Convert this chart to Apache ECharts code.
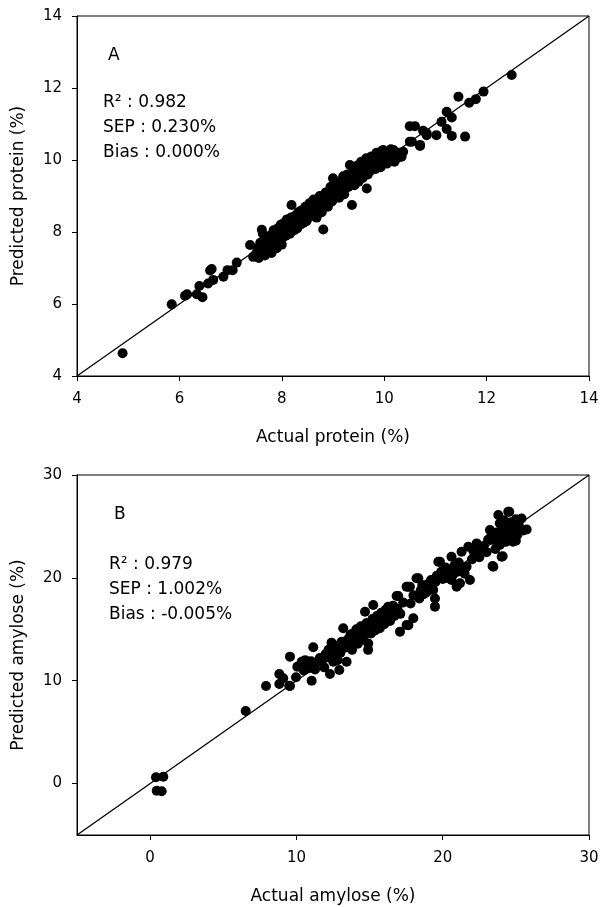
<!DOCTYPE html>
<html>
<head>
<meta charset="utf-8">
<script src="https://cdn.jsdelivr.net/npm/echarts@6/dist/echarts.min.js"></script>
<style>html,body{margin:0;padding:0;background:#fff;}#c{width:602px;height:907px;}</style>
</head>
<body>
<div id="c"></div>
<script>
// Panel A: protein (actual, predicted)
var proteinPoints = [
[4.89,4.63],[5.85,5.99],[6.11,6.23],[6.15,6.27],[6.34,6.27],[6.39,6.5],[6.45,6.19],[6.56,6.57],[6.63,6.97],[6.60,6.93],[6.66,6.67],[6.86,6.76],[6.94,6.94],[7.04,6.94],[7.12,7.15],
[7.38,7.64],[7.44,7.31],[7.50,7.40],[7.52,7.55],[7.55,7.28],[7.58,7.70],[7.60,7.45],[7.61,8.06],[7.63,7.95],[7.65,7.62],[7.67,7.35],[7.70,7.80],[7.72,7.50],[7.74,7.68],[7.76,7.58],[7.78,7.90],[7.80,7.42],[7.82,7.72],[7.84,8.05],[7.86,7.62],[7.88,7.85],[7.90,7.55],[7.92,8.10],[7.94,7.95],[7.96,7.70],[7.98,8.20],[8.00,7.65],[8.00,8.00],[8.02,7.85],[8.04,8.25],[8.06,8.10],[8.08,7.90],[8.10,8.35],[8.12,8.05],[8.14,8.20],[8.16,7.95],[8.18,8.40],[8.19,8.75],[8.20,8.15],[8.22,8.30],[8.24,8.05],[8.26,8.45],[8.28,8.25],[8.30,8.10],[8.32,8.55],[8.34,8.35],[8.36,8.20],[8.38,8.60],[8.40,8.40],[8.42,8.25],[8.44,8.50],[8.46,8.70],[8.48,8.30],[8.50,8.55],[8.52,8.40],[8.54,8.80],[8.56,8.60],[8.58,8.45],[8.60,8.70],[8.62,8.90],[8.64,8.55],[8.66,8.75],[8.68,8.40],[8.70,8.85],[8.72,8.65],[8.74,9.00],[8.76,8.80],[8.78,8.55],[8.80,8.95],[8.81,8.07],[8.84,8.75],[8.86,9.10],[8.88,8.90],[8.90,8.70],[8.92,9.05],[8.95,9.25],[8.98,8.85],[9.00,9.49],[9.02,9.10],[9.05,8.95],[9.08,9.30],[9.10,9.15],[9.12,8.95],[9.15,9.40],[9.18,9.20],[9.20,9.55],[9.22,9.05],[9.25,9.35],[9.28,9.60],[9.30,9.25],[9.33,9.86],[9.35,9.45],[9.37,8.75],[9.40,9.70],[9.42,9.30],[9.45,9.55],[9.48,9.85],[9.50,9.40],[9.52,9.65],[9.55,9.95],[9.58,9.50],[9.59,9.95],[9.62,9.75],[9.65,10.05],[9.66,9.21],[9.68,9.60],[9.70,9.90],[9.73,9.70],[9.75,10.10],[9.78,9.85],[9.80,10.00],[9.83,9.75],[9.85,10.20],[9.88,9.95],[9.90,10.10],[9.93,9.80],[9.95,10.25],[9.98,10.28],[10.00,10.00],[10.03,10.15],[10.05,9.90],[10.08,10.20],[10.10,10.05],[10.13,10.30],[10.15,10.10],[10.18,10.28],[10.20,9.95],[10.22,10.15],[10.25,10.05],[10.28,10.20],[10.30,10.10],[10.34,10.09],[10.37,10.23],
[10.50,10.51],[10.50,10.94],[10.54,10.51],[10.60,10.94],[10.70,10.42],[10.70,10.39],[10.76,10.81],[10.83,10.74],[10.83,10.69],[11.02,10.69],[11.12,11.06],[11.22,11.34],[11.22,10.86],[11.32,11.18],[11.32,10.67],[11.45,11.76],[11.58,10.65],[11.66,11.59],[11.79,11.69],[11.94,11.90],[12.49,12.36]
];
// Panel B: amylose (actual, predicted)
var amylosePoints = [
[0.40,0.61],[0.90,0.67],[0.45,-0.69],[0.79,-0.75],[6.53,7.06],[7.92,9.49],[8.83,9.68],[9.51,9.51],[8.83,10.65],[9.10,10.24],[9.56,12.34],[9.97,10.33],[9.56,9.49],[10.06,11.36],[10.36,11.85],[10.60,12.00],[10.81,11.20],[11.27,11.10],[11.04,10.00],[11.15,13.25],[10.5,11.0],[10.7,11.6],[11.0,11.9],[11.2,11.5],[11.4,11.8],[11.6,12.2],[11.8,12.1],[11.9,11.3],[12.0,12.6],[12.17,12.27],[12.29,10.65],[12.52,11.85],[12.93,11.04],[12.40,13.70],[12.2,13.0],[12.5,12.9],[12.6,12.3],[12.7,13.4],[12.8,12.0],[12.9,13.3],[13.0,12.7],[13.1,13.8],[13.2,15.1],[13.3,13.2],[13.43,11.85],[13.5,14.0],[13.6,13.4],[13.7,14.5],[13.8,13.0],[13.88,14.60],[13.9,13.8],[14.0,14.3],[14.1,15.0],[14.2,13.6],[14.3,14.6],[14.4,15.3],[14.5,14.0],[14.6,15.0],[14.69,16.71],[14.7,14.5],[14.8,15.6],[14.9,13.0],[14.91,13.62],[15.0,15.2],[15.1,14.6],[15.2,16.0],[15.25,17.36],[15.3,15.4],[15.4,14.9],[15.5,16.3],[15.6,15.7],[15.7,15.1],[15.8,16.6],[15.94,16.23],[16.0,15.5],[16.1,16.9],[16.2,16.0],[16.28,17.20],[16.4,15.8],[16.5,16.8],[16.6,17.3],[16.7,16.3],[16.85,18.24],[16.9,17.0],[16.96,18.24],[17.08,14.77],[17.1,16.5],[17.3,17.6],[17.53,15.42],[17.53,19.14],[17.65,19.14],[17.65,15.4],[17.76,19.14],[17.8,17.5],[17.99,16.07],[18.0,18.3],[18.21,19.96],[18.33,19.96],[18.4,18.0],[18.5,18.8],[18.6,19.3],[18.7,18.4],[18.8,19.0],[18.9,18.6],[19.0,19.4],[19.1,19.0],[19.2,19.8],[19.35,18.82],[19.47,18.00],[19.47,17.20],[19.5,19.6],[19.6,20.2],[19.7,21.57],[19.81,21.57],[19.9,20.6],[20.0,19.9],[20.1,20.4],[20.2,21.0],[20.3,20.0],[20.4,20.6],[20.5,20.76],[20.6,22.06],[20.6,19.8],[20.7,20.3],[20.8,21.2],[20.95,19.14],[21.0,20.6],[21.1,21.5],[21.18,19.47],[21.29,22.54],[21.4,21.0],[21.5,20.4],[21.63,21.08],[21.75,23.02],[21.86,19.79],[22.0,21.8],[22.1,22.6],[22.32,23.35],[22.5,22.0],[22.66,22.70],[22.8,23.1],[23.0,22.5],[23.1,23.7],[23.23,24.65],[23.3,24.0],[23.41,21.15],[23.46,21.08],[23.46,23.68],[23.6,22.8],[23.7,24.4],[23.8,26.11],[23.9,25.3],[24.0,24.0],[24.03,22.06],[24.1,22.1],[24.1,24.8],[24.2,25.6],[24.3,23.5],[24.4,25.0],[24.48,26.43],[24.55,26.43],[24.6,24.3],[24.7,25.4],[24.8,23.52],[24.9,24.9],[25.0,25.7],[25.1,24.2],[25.2,25.1],[25.39,25.77],[25.5,24.6],[25.74,24.70],[24.5,24.5],[24.2,24.1],[23.9,23.2],[24.7,23.9],[25.0,23.6]
];
var lineA = [[4,4],[14,14]];
var lineB = [[-5,-5],[30,30]];
var ticksA = [4,6,8,10,12,14];
var ticksB = [0,10,20,30];
var statsA = ['R\u00b2 : 0.982','SEP : 0.230%','Bias : 0.000%'];
var statsB = ['R\u00b2 : 0.979','SEP : 1.002%','Bias : -0.005%'];

var FONT = 'DejaVu Sans';
function axis(gi, min, max, interval, ticks, name, isY) {
  return {
    type: 'value', gridIndex: gi, min: min, max: max, interval: interval,
    name: name, nameLocation: 'middle',
    nameGap: isY ? 50 : 53,
    nameTextStyle: {fontFamily: FONT, fontSize: 17, color: '#000'},
    axisLine: {show: true, onZero: false, lineStyle: {color: '#000', width: 1}},
    axisTick: {show: true, inside: false, length: 5, lineStyle: {color: '#000', width: 1}, customValues: ticks},
    axisLabel: {fontFamily: FONT, fontSize: 15, color: '#000', margin: isY ? 15 : 16, customValues: ticks},
    splitLine: {show: false}
  };
}
var chart = echarts.init(document.getElementById('c'));
function txt(x, y, s) {
  return {type: 'text', left: x, top: y, style: {text: s, font: '17px "DejaVu Sans"', fill: '#000'}};
}
var graphics = [txt(108, 47, 'A')];
statsA.forEach(function (s, i) { graphics.push(txt(103, 94 + i * 25, s)); });
graphics.push(txt(114, 506, 'B'));
statsB.forEach(function (s, i) { graphics.push(txt(109, 556 + i * 25, s)); });

chart.setOption({
  animation: false,
  backgroundColor: '#fff',
  grid: [
    {left: 77, top: 16, width: 512, height: 360, show: true, borderColor: '#000', borderWidth: 1, backgroundColor: 'transparent'},
    {left: 77, top: 475, width: 512, height: 360, show: true, borderColor: '#000', borderWidth: 1, backgroundColor: 'transparent'}
  ],
  xAxis: [
    axis(0, 4, 14, 2, ticksA, 'Actual protein (%)', false),
    axis(1, -5, 30, 5, ticksB, 'Actual amylose (%)', false)
  ],
  yAxis: [
    axis(0, 4, 14, 2, ticksA, 'Predicted protein (%)', true),
    axis(1, -5, 30, 5, ticksB, 'Predicted amylose (%)', true)
  ],
  series: [
    {type: 'line', xAxisIndex: 0, yAxisIndex: 0, data: lineA, symbol: 'none', lineStyle: {color: '#000', width: 1.3}, z: 1, silent: true},
    {type: 'scatter', xAxisIndex: 0, yAxisIndex: 0, data: proteinPoints, symbolSize: 10, itemStyle: {color: '#000', opacity: 1}, z: 2},
    {type: 'line', xAxisIndex: 1, yAxisIndex: 1, data: lineB, symbol: 'none', lineStyle: {color: '#000', width: 1.3}, z: 1, silent: true},
    {type: 'scatter', xAxisIndex: 1, yAxisIndex: 1, data: amylosePoints, symbolSize: 10, itemStyle: {color: '#000', opacity: 1}, z: 2}
  ],
  graphic: graphics
});
</script>
</body>
</html>
